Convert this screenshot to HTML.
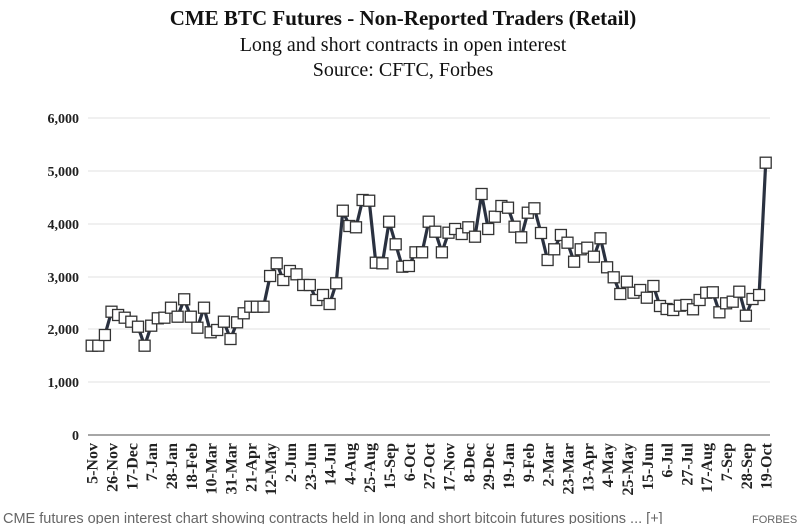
<!DOCTYPE html>
<html><head><meta charset="utf-8"><style>
body{margin:0;background:#fff;width:800px;height:524px;overflow:hidden}
svg{display:block}
</style></head><body>
<svg width="800" height="524" xmlns="http://www.w3.org/2000/svg">
<rect width="800" height="524" fill="#fff"/>
<g font-family="Liberation Serif, serif" fill="#111" text-anchor="middle">
<text x="403" y="25" font-size="21" font-weight="bold">CME BTC Futures - Non-Reported Traders (Retail)</text>
<text x="403" y="51" font-size="20">Long and short contracts in open interest</text>
<text x="403" y="76" font-size="20">Source: CFTC, Forbes</text>
</g>
<g stroke="#e6e6e6" stroke-width="1.2">
<line x1="88" x2="770" y1="118" y2="118"/><line x1="88" x2="770" y1="171" y2="171"/>
<line x1="88" x2="770" y1="224" y2="224"/><line x1="88" x2="770" y1="277" y2="277"/>
<line x1="88" x2="770" y1="329" y2="329"/><line x1="88" x2="770" y1="382" y2="382"/>
</g>
<line x1="88" x2="770" y1="435" y2="435" stroke="#888" stroke-width="1.5"/>
<g font-family="Liberation Serif, serif" font-size="14" font-weight="bold" fill="#222" text-anchor="end">
<text x="79" y="123">6,000</text><text x="79" y="176">5,000</text><text x="79" y="229">4,000</text>
<text x="79" y="282">3,000</text><text x="79" y="334">2,000</text><text x="79" y="387">1,000</text>
<text x="79" y="440">0</text>
</g>
<g id="xl" font-family="Liberation Serif, serif" font-size="16" font-weight="bold" fill="#222" text-anchor="end"></g>
<polyline id="ln" fill="none" stroke="#2a3140" stroke-width="3.2" stroke-linejoin="round"/>
<g id="mk" fill="#fff" stroke="#333" stroke-width="1.3"></g>
<text x="3" y="523" font-family="Liberation Sans, sans-serif" font-size="14.5" fill="#666">CME futures open interest chart showing contracts held in long and short bitcoin futures positions ... [+]</text>
<text x="752" y="523" font-family="Liberation Sans, sans-serif" font-size="11" fill="#666">FORBES</text>
</svg>
<script>
var ys=[345.7,345.7,335,311.7,315,317.7,321.7,326.7,345.7,325.7,318.3,317.7,307.7,316.7,299.3,316.7,327.7,307.7,332.3,330,321.7,339,322.3,313.3,306.7,306.7,306.7,276,263.3,280,271,274.3,285,285,300,
295,304,283.3,210.7,226,227.3,200,200.7,262.7,263.3,221.7,244.3,266.7,266,252.3,252.3,221.7,231.7,252.3,232.7,229,234,227.3,236.7,194,229,216.7,206,207.7,226.7,237.3,212.7,208.3,233,
260,249.3,235,242.7,261.7,249.3,247.7,256.7,238.3,267.3,277.3,294,281.7,292.7,290,297.7,286,306,309,310,305.7,305,309.3,300,292.7,292.3,312.3,303.3,301.7,291.7,315.7,299,295,162.7];
var pts=[],mk='';
for(var i=0;i<ys.length;i++){var x=91.7+i*674/(ys.length-1);pts.push(x.toFixed(1)+','+ys[i]);
mk+='<rect x="'+(x-5.5).toFixed(1)+'" y="'+(ys[i]-5.5)+'" width="11" height="11"/>';}
document.getElementById('ln').setAttribute('points',pts.join(' '));
document.getElementById('mk').innerHTML=mk;
var L=['5-Nov','26-Nov','17-Dec','7-Jan','28-Jan','18-Feb','10-Mar','31-Mar','21-Apr','12-May','2-Jun','23-Jun','14-Jul','4-Aug','25-Aug','15-Sep','6-Oct','27-Oct','17-Nov','8-Dec','29-Dec','19-Jan','9-Feb','2-Mar','23-Mar','13-Apr','4-May','25-May','15-Jun','6-Jul','27-Jul','17-Aug','7-Sep','28-Sep','19-Oct'];
var s='';for(var j=0;j<L.length;j++){var x=91.7+j*3*674/102+6;s+='<text transform="translate('+x.toFixed(1)+',443) rotate(-90)">'+L[j]+'</text>';}
document.getElementById('xl').innerHTML=s;
</script>
</body></html>
